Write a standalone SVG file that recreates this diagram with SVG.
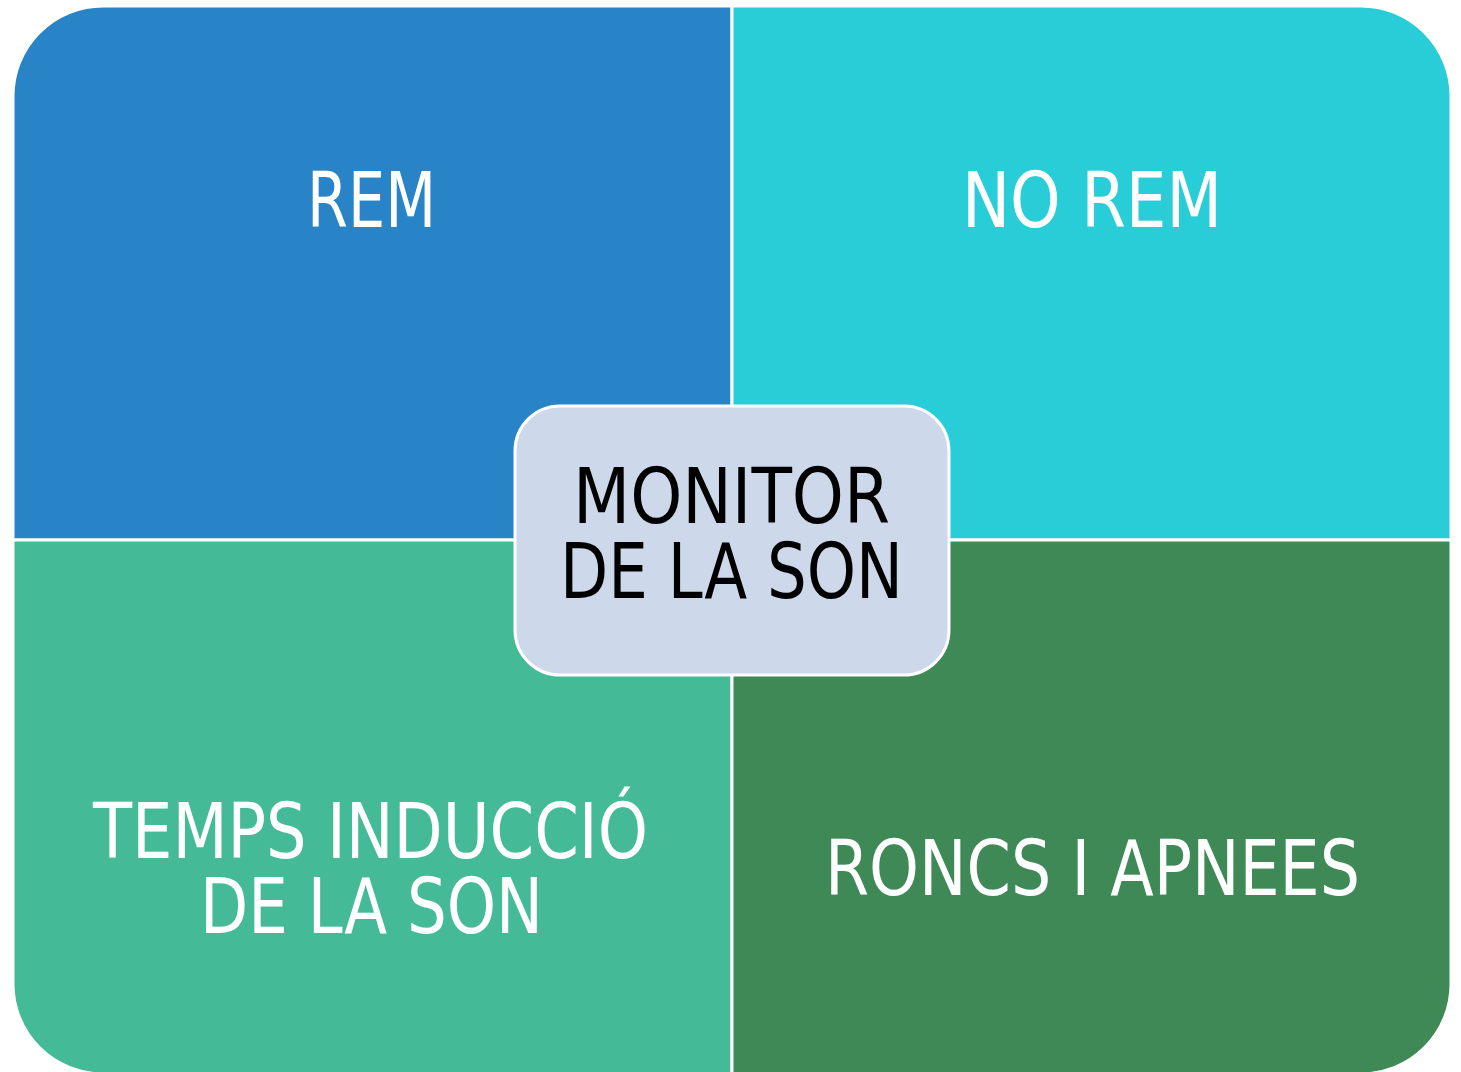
<svg xmlns="http://www.w3.org/2000/svg" width="1461" height="1072" viewBox="0 0 1461 1072">
<style>
.q{stroke:#ffffff;stroke-width:3}
.t{font-family:"Liberation Sans Narrow","DejaVu Sans Condensed","Liberation Sans",sans-serif;font-size:76px;text-anchor:middle;fill:#ffffff}
.c{fill:#000000}
</style>
<rect width="1461" height="1072" fill="#ffffff"/>
<g id="rem">
<path class="q" d="M13,540 L13,96 A90,90 0 0 1 103,6 L732,6 L732,540 Z" fill="#2884C6"/>
<text class="t" x="371.5" y="227" textLength="129" lengthAdjust="spacingAndGlyphs">REM</text>
</g>
<g id="norem">
<path class="q" d="M732,6 L1361,6 A90,90 0 0 1 1451,96 L1451,540 L732,540 Z" fill="#29CDD8"/>
<text class="t" x="1092" y="227" textLength="260" lengthAdjust="spacingAndGlyphs">NO REM</text>
</g>
<g id="temps">
<path class="q" d="M13,540 L732,540 L732,1074 L103,1074 A90,90 0 0 1 13,984 Z" fill="#44BA97"/>
<text class="t" x="370.5" y="858" textLength="555" lengthAdjust="spacingAndGlyphs">TEMPS INDUCCIÓ</text>
<text class="t" x="371.5" y="933" textLength="343" lengthAdjust="spacingAndGlyphs">DE LA SON</text>
</g>
<g id="roncs">
<path class="q" d="M732,540 L1451,540 L1451,984 A90,90 0 0 1 1361,1074 L732,1074 Z" fill="#3F8956"/>
<text class="t" x="1092.5" y="895" textLength="535" lengthAdjust="spacingAndGlyphs">RONCS I APNEES</text>
</g>
<g id="connectors"></g>
<g id="monitor">
<rect x="515" y="406" width="434" height="269" rx="45" ry="45" fill="#CDD8EA" stroke="#ffffff" stroke-width="3"/>
<text class="t c" x="731.5" y="523" textLength="317" lengthAdjust="spacingAndGlyphs">MONITOR</text>
<text class="t c" x="731.5" y="598" textLength="343" lengthAdjust="spacingAndGlyphs">DE LA SON</text>
</g>
</svg>
